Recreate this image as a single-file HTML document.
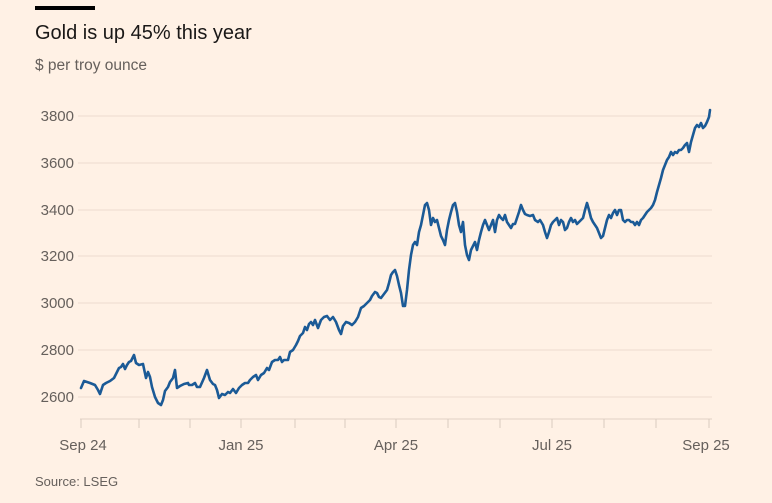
<!DOCTYPE html>
<html><head><meta charset="utf-8"><style>
html,body{margin:0;padding:0;background:#FFF1E5;}
body{width:772px;height:503px;overflow:hidden;position:relative;font-family:"Liberation Sans",sans-serif;}
</style></head><body>
<svg width="772" height="503" xmlns="http://www.w3.org/2000/svg" style="position:absolute;left:0;top:0">
<rect x="35" y="6" width="60" height="4" fill="#000"/>
<text x="35" y="39" font-size="20" fill="#1a1817" font-family="Liberation Sans, sans-serif">Gold is up 45% this year</text>
<text x="35" y="70" font-size="15.5" fill="#66605c" font-family="Liberation Sans, sans-serif">$ per troy ounce</text>
<g stroke="#ecdcd0" stroke-width="1">
<line x1="78" y1="116" x2="712" y2="116"/>
<line x1="78" y1="163" x2="712" y2="163"/>
<line x1="78" y1="210" x2="712" y2="210"/>
<line x1="78" y1="256" x2="712" y2="256"/>
<line x1="78" y1="303" x2="712" y2="303"/>
<line x1="78" y1="350" x2="712" y2="350"/>
<line x1="78" y1="397" x2="712" y2="397"/>
</g>
<g font-size="15" fill="#66605c" text-anchor="end" font-family="Liberation Sans, sans-serif">
<text x="74" y="121">3800</text><text x="74" y="168">3600</text><text x="74" y="215">3400</text>
<text x="74" y="261">3200</text><text x="74" y="308">3000</text><text x="74" y="355">2800</text><text x="74" y="402">2600</text>
</g>
<line x1="80" y1="419" x2="712" y2="419" stroke="#e0d1c5"/>
<g stroke="#d9cabe" stroke-width="1">
<line x1="81" y1="419" x2="81" y2="428"/><line x1="139" y1="419" x2="139" y2="428"/><line x1="190" y1="419" x2="190" y2="428"/>
<line x1="241" y1="419" x2="241" y2="428"/><line x1="295" y1="419" x2="295" y2="428"/><line x1="345" y1="419" x2="345" y2="428"/>
<line x1="396" y1="419" x2="396" y2="428"/><line x1="448" y1="419" x2="448" y2="428"/><line x1="500" y1="419" x2="500" y2="428"/>
<line x1="552" y1="419" x2="552" y2="428"/><line x1="604" y1="419" x2="604" y2="428"/><line x1="656" y1="419" x2="656" y2="428"/>
<line x1="709" y1="419" x2="709" y2="428"/>
</g>
<g font-size="15" fill="#66605c" text-anchor="middle" font-family="Liberation Sans, sans-serif">
<text x="83" y="450">Sep 24</text><text x="241" y="450">Jan 25</text><text x="396" y="450">Apr 25</text>
<text x="552" y="450">Jul 25</text><text x="706" y="450">Sep 25</text>
</g>
<text x="35" y="486" font-size="13" fill="#66605c" font-family="Liberation Sans, sans-serif">Source: LSEG</text>
<polyline fill="none" stroke="#1b5a96" stroke-width="2.6" stroke-linejoin="round" stroke-linecap="round" points="81,388 84,381 90,383 95,385 98,390 100,394 103,385 106,383 110,381 114,378 117,372 119,368 121,367 123,364 125,369 127,365 129,362 131,361 133,357 134,355 136,363 139,365 143,364 146,378 148,372 150,377 152,387 155,397 158,403 161,405 163,400 165,391 168,387 170,382 173,378 175,370 177,388 180,386 184,384 188,383 189,385 192,385 195,383 197,387 200,387 204,378 207,370 210,380 213,384 215,385 217,390 219,398 222,394 225,395 228,392 230,393 233,389 236,393 239,388 242,385 245,383 248,383 250,380 253,377 256,375 258,380 261,375 264,373 267,368 269,370 272,362 275,360 278,360 280,357 282,362 284,360 288,360 290,352 293,350 296,345 298,341 300,336 303,333 305,327 307,330 309,324 311,322 313,325 315,320 318,328 321,320 324,317 327,316 330,320 333,317 336,322 339,330 341,334 343,326 346,322 349,323 352,325 355,322 358,317 361,308 364,306 367,303 370,300 372,296 375,292 377,293 379,297 381,298 384,294 387,290 389,283 391,275 393,272 395,270 397,276 399,285 401,293 403,306 405,306 407,290 409,270 411,255 413,245 415,242 417,245 419,232 421,225 423,215 425,205 427,203 429,210 431,225 433,218 435,222 437,220 439,228 441,236 443,240 445,245 447,230 449,220 451,212 453,205 455,203 457,212 459,225 461,232 463,222 465,245 467,255 469,260 471,250 473,246 475,242 477,250 479,240 481,232 483,225 485,220 487,225 489,230 491,225 493,220 495,232 497,220 499,215 501,218 503,220 505,215 507,222 509,225 511,228 513,224 515,224 517,218 519,212 521,205 523,210 525,214 527,215 530,216 533,215 535,220 538,222 540,220 543,225 545,232 547,238 549,232 551,225 553,222 555,220 557,218 559,225 561,220 563,222 565,230 567,228 569,222 571,218 573,222 575,220 577,224 579,222 581,220 583,218 585,210 587,203 589,210 591,218 593,222 595,225 597,228 599,233 601,238 603,236 605,228 607,220 609,215 611,218 613,213 615,210 617,215 619,210 621,210 623,220 625,222 627,220 629,220 631,222 633,222 635,225 637,222 639,225 641,220 643,218 645,215 647,212 649,210 651,208 653,205 655,200 657,192 659,185 661,178 663,170 665,165 667,160 669,157 671,152 673,155 675,152 677,153 679,150 681,150 683,148 685,145 687,143 689,152 691,142 693,135 695,128 697,125 699,127 701,123 703,128 705,126 707,122 709,117 710,110"/>
</svg>
</body></html>
